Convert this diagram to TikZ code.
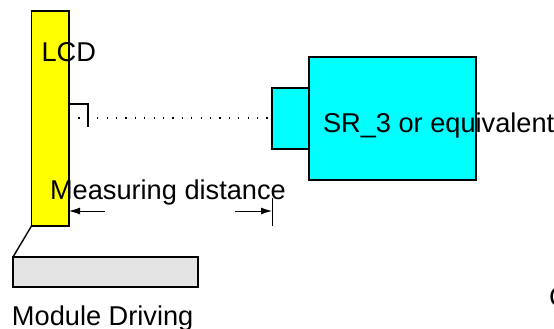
\documentclass[tikz,border=0pt]{standalone}
\usepackage{fontspec}
\setmainfont{Liberation Sans}
\usetikzlibrary{arrows.meta}
\definecolor{panelgray}{RGB}{228,228,228}
\definecolor{lcdyellow}{RGB}{255,255,0}
\definecolor{srcyan}{RGB}{0,255,255}
\tikzset{
  x=1pt,y=-1pt,
  box/.style={draw=black,line width=1.4pt,anchor=north west,inner sep=0pt,outer sep=0pt},
  lbl/.style={anchor=base west,inner sep=0pt,outer sep=0pt,font=\fontsize{27.2}{30}\selectfont,text=black},
  thin line/.style={draw=black,line width=0.9pt},
  dim/.style={thin line,-{Latex[length=11pt,width=7pt]}}
}
\begin{document}
\begin{tikzpicture}
\useasboundingbox (0,0) rectangle (554,329);
\node[box,fill=lcdyellow,minimum width=37.5pt,minimum height=215pt] (lcd) at (31.5,11) {};
\node[box,fill=panelgray,minimum width=185pt,minimum height=30pt] (module) at (13,257) {};
\node[box,fill=srcyan,minimum width=37pt,minimum height=61pt] (lens) at (272,88) {};
\node[box,fill=srcyan,minimum width=167pt,minimum height=123pt] (body) at (309,57) {};
\draw[box] (lcd.south west) -- (module.north west);
\coordinate (axis) at (lcd.east |- 0,118);
\coordinate (br1) at (lcd.east |- 0,104);
\coordinate (br2) at (88,104);
\coordinate (br3) at (88,127);
\draw[thin line,line width=1.2pt] (br1) -- (br2) -- (br3);
\draw[black,line width=1.1pt,dash pattern=on 1.1pt off 8.3pt] (axis) -- (axis -| lens.west);
\coordinate (tickA) at (272,198);
\coordinate (tickB) at (272,226);
\draw[thin line] (tickA) -- (tickB);
\coordinate (arrL) at (105,211);
\coordinate (arrR) at (235,211);
\draw[dim] (arrL) -- (arrL -| lcd.east);
\draw[dim] (arrR) -- (arrR -| tickA);
\node[lbl] (t1) at (41.5,62) {LCD};
\node[lbl] (t2) at (323,132) {SR\_3 or equivalent};
\node[lbl] (t3) at (50,199.5) {Measuring distance};
\node[lbl] (t4) at (12,325) {Module Driving};
\node[lbl] (t5) at (549,306) {C};
\end{tikzpicture}
\end{document}
